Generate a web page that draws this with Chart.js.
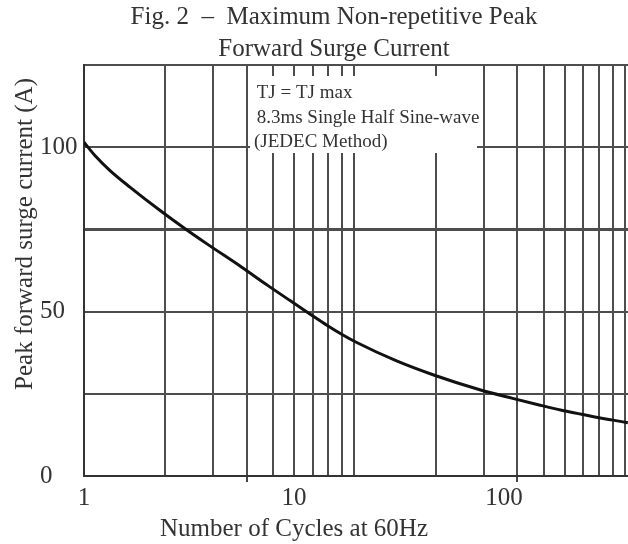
<!DOCTYPE html>
<html>
<head>
<meta charset="utf-8">
<script src="https://cdn.jsdelivr.net/npm/chart.js@4/dist/chart.umd.min.js"></script>
<style>
html,body{margin:0;padding:0;background:#fff;}
canvas{display:block;}
</style>
</head>
<body>
<canvas id="c" width="628" height="544"></canvas>
<script>
// ---- data ----
const cycles       = [1, 1.13, 1.33, 1.66, 2.33, 3.03, 3.85, 5.64, 7.52, 9.65, 11.9, 14.4, 17.1, 19.9, 30.8, 45.9, 76, 110, 147, 188, 234, 279, 330, 389];
const surgeCurrent = [101.5, 97.4, 92.9, 87.8, 80.5, 75.2, 70.6, 63.5, 57.9, 53.2, 49.3, 45.8, 42.9, 40.6, 35.0, 30.8, 26.3, 23.6, 21.6, 20.0, 18.8, 17.8, 17.0, 16.2];
const xTickValues  = [1, 10, 100];
const xTickLabels  = ['1', '10', '100'];
const gridCycles   = [1, 2, 3, 4, 5, 6, 7, 8, 9, 10, 20, 30, 40, 50, 60, 70, 80, 90, 100];
const markedCycles = [4, 40];
const yTickValues  = [0, 25, 50, 75, 100, 125];
const yTickLabels  = ['0', '', '50', '', '100', ''];
const titleLines   = ['Fig. 2  \u2013  Maximum Non-repetitive Peak', 'Forward Surge Current'];
const xTitle       = 'Number of Cycles at 60Hz';
const yTitle       = 'Peak forward surge current (A)';
const noteLines    = ['TJ = TJ max', '8.3ms Single Half Sine-wave', '(JEDEC Method)'];

const FAMILY = '"Liberation Serif", "Times New Roman", serif';
const TEXT = '#333';
const GRID = '#4d4d4d';

const annotate = {
  id: 'annotate',
  beforeDatasetsDraw(chart) {
    const {ctx, chartArea: ca} = chart;
    ctx.save();
    ctx.fillStyle = '#fff';
    ctx.fillRect(ca.left + 166, ca.top + 11, 227, 77);
    ctx.fillStyle = TEXT;
    ctx.font = '19px ' + FAMILY;
    ctx.textAlign = 'left';
    ctx.textBaseline = 'alphabetic';
    const offs = [[172.7, 33], [172.7, 57.7], [170, 81.7]];
    noteLines.forEach((t, i) => ctx.fillText(t, ca.left + offs[i][0], ca.top + offs[i][1]));
    ctx.restore();
  },
  afterDraw(chart) {
    const {ctx, chartArea: ca} = chart;
    ctx.save();
    ctx.fillStyle = TEXT;
    ctx.font = '25px ' + FAMILY;
    ctx.textAlign = 'center';
    ctx.textBaseline = 'alphabetic';
    ctx.fillText(xTitle, ca.left + 210, chart.height - 8);
    ctx.translate(32, ca.top + 169);
    ctx.rotate(-Math.PI / 2);
    ctx.fillText(yTitle, 0, 0);
    ctx.restore();
  }
};

new Chart(document.getElementById('c'), {
  type: 'line',
  data: {
    datasets: [{
      xAxisID: 'x',
      yAxisID: 'y',
      data: cycles.map((c, i) => ({x: c, y: surgeCurrent[i]})),
      borderColor: '#111',
      borderWidth: 3,
      pointRadius: 0,
      cubicInterpolationMode: 'monotone',
      fill: false
    }]
  },
  options: {
    responsive: false,
    animation: false,
    devicePixelRatio: 1,
    layout: {padding: {left: 40, right: 0, top: 0, bottom: 30}},
    plugins: {
      legend: {display: false},
      tooltip: {enabled: false},
      title: {
        display: true,
        text: titleLines,
        color: TEXT,
        font: {family: FAMILY, size: 25, weight: 'normal', lineHeight: 1.28},
        padding: {top: 1, bottom: 0}
      }
    },
    scales: {
      x2: {
        type: 'logarithmic',
        position: 'bottom',
        weight: 0,
        min: 1,
        max: 102.6,
        afterBuildTicks: s => { s.ticks = gridCycles.map(v => ({value: v})); },
        ticks: {display: false},
        grid: {
          color: GRID,
          lineWidth: 2,
          drawTicks: true,
          tickLength: 6,
          tickWidth: 2,
          tickColor: c => (c.tick && markedCycles.includes(c.tick.value)) ? '#444' : 'rgba(0,0,0,0)'
        },
        border: {display: true, color: '#333', width: 2}
      },
      x: {
        type: 'logarithmic',
        position: 'bottom',
        weight: 1,
        min: 1,
        max: 389.5,
        afterBuildTicks: s => { s.ticks = xTickValues.map(v => ({value: v})); },
        ticks: {
          autoSkip: false,
          maxRotation: 0,
          padding: 1,
          color: TEXT,
          font: {family: FAMILY, size: 25},
          callback: (v, i) => xTickLabels[i]
        },
        grid: {display: false, drawTicks: false},
        border: {display: false}
      },
      y: {
        type: 'linear',
        min: 0,
        max: 125,
        afterBuildTicks: s => { s.ticks = yTickValues.map(v => ({value: v})); },
        afterFit: s => { s.width = 44; },
        ticks: {
          crossAlign: 'far',
          padding: 0,
          color: TEXT,
          font: {family: FAMILY, size: 25},
          callback: (v, i) => yTickLabels[i]
        },
        grid: {
          drawTicks: false,
          color: GRID,
          lineWidth: c => (c.tick && c.tick.value === 75) ? 3 : 2
        },
        border: {color: '#333', width: 2}
      }
    }
  },
  plugins: [annotate]
});
</script>
</body>
</html>
